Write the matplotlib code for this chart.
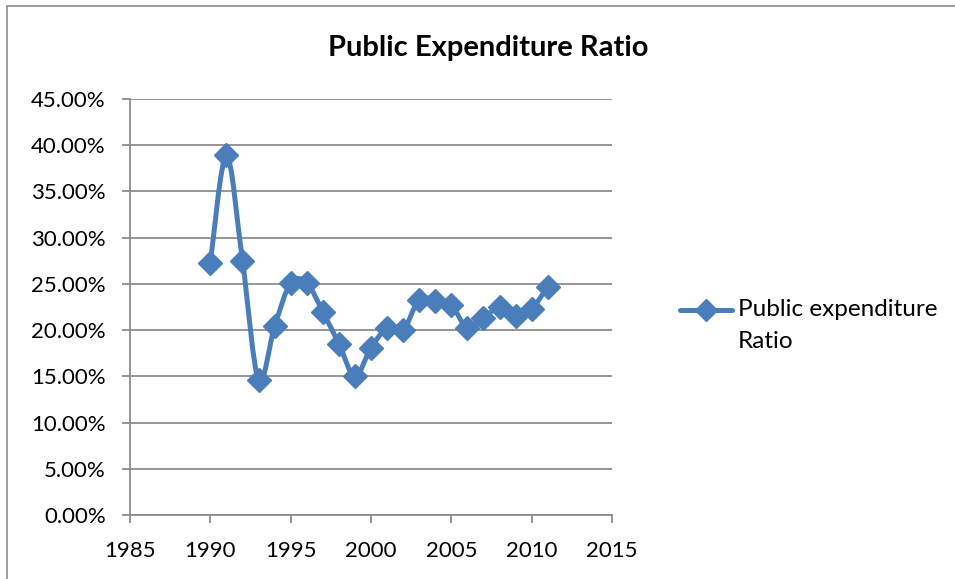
import numpy as np
import matplotlib.pyplot as plt
from matplotlib.path import Path
from matplotlib.patches import PathPatch, Rectangle
from matplotlib.lines import Line2D
from matplotlib.ticker import FuncFormatter, MultipleLocator

plt.rcParams['font.family'] = ['Lato', 'DejaVu Sans']

years = [1990, 1991, 1992, 1993, 1994, 1995, 1996, 1997, 1998, 1999, 2000,
         2001, 2002, 2003, 2004, 2005, 2006, 2007, 2008, 2009, 2010, 2011]
ratio = [27.3, 38.9, 27.5, 14.6, 20.4, 25.1, 25.1, 22.0, 18.5, 15.0, 18.1,
         20.2, 20.0, 23.3, 23.2, 22.7, 20.2, 21.3, 22.5, 21.5, 22.3, 24.7]

blue = '#4a7ebb'
W, H = 955, 579

fig = plt.figure(figsize=(W / 100, H / 100), dpi=100)
ax = fig.add_axes([130 / W, 1 - 515 / H, (612 - 130) / W, (515 - 99) / H])

# chart frame
fig.patches.append(Rectangle((7 / W, -0.1), 2, 1 - 6 / H + 0.1,
                             transform=fig.transFigure, fill=False,
                             edgecolor='#8c8c8c', linewidth=1.2))

# smoothed line, excel style bezier through the points
x = np.array(years, dtype=float)
y = np.array(ratio)
verts = [(x[0], y[0])]
codes = [Path.MOVETO]
n = len(x)
for i in range(n - 1):
    p0 = np.array([x[max(i - 1, 0)], y[max(i - 1, 0)]])
    p1 = np.array([x[i], y[i]])
    p2 = np.array([x[i + 1], y[i + 1]])
    p3 = np.array([x[min(i + 2, n - 1)], y[min(i + 2, n - 1)]])
    c1 = p1 + (p2 - p0) / 6
    c2 = p2 - (p3 - p1) / 6
    verts += [tuple(c1), tuple(c2), tuple(p2)]
    codes += [Path.CURVE4] * 3
ax.add_patch(PathPatch(Path(verts, codes), facecolor='none', edgecolor=blue,
                       linewidth=3.6, capstyle='round', joinstyle='round', zorder=3))
ax.plot(years, ratio, linestyle='none', marker='D', markersize=12.5,
        color=blue, zorder=4)

ax.set_xlim(1985, 2015)
ax.set_ylim(0, 45)
ax.xaxis.set_major_locator(MultipleLocator(5))
ax.yaxis.set_major_locator(MultipleLocator(5))
ax.yaxis.set_major_formatter(FuncFormatter(lambda v, p: f'{v:.2f}%'))
ax.grid(axis='y', color='#8c8c8c', linewidth=1.3)
ax.set_axisbelow(True)
for side in ['top', 'right']:
    ax.spines[side].set_visible(False)
for side in ['left', 'bottom']:
    ax.spines[side].set_color('#8c8c8c')
    ax.spines[side].set_linewidth(1.3)
ax.tick_params(axis='both', colors='#8c8c8c', labelcolor='black',
               labelsize=16, length=5.5, width=1.3)
ax.tick_params(axis='y', pad=12)
ax.tick_params(axis='x', pad=13)

fig.text(488 / W, 1 - 48 / H, 'Public Expenditure Ratio', ha='center', va='center',
         fontsize=21, fontweight='bold')

# legend entry
ly = 1 - 310 / H
fig.add_artist(Line2D([680 / W, 706 / W, 732 / W], [ly, ly, ly], color=blue,
                      linewidth=3.6, marker='D', markersize=11, markevery=[1],
                      solid_capstyle='round'))
fig.text(738 / W, ly, 'Public expenditure', ha='left', va='center', fontsize=17.5)
fig.text(738 / W, 1 - 342 / H, 'Ratio', ha='left', va='center', fontsize=17.5)

fig.savefig('out.png', dpi=100)
